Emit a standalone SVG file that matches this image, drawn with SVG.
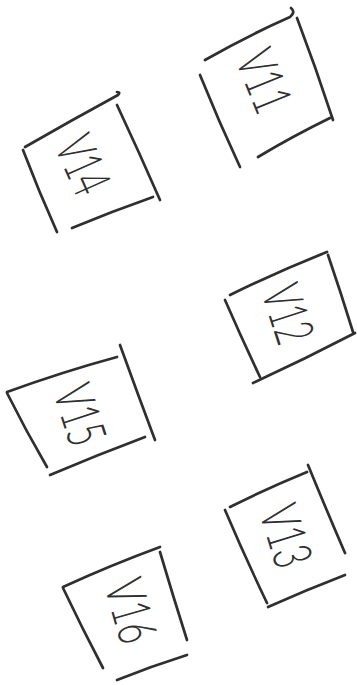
<svg xmlns="http://www.w3.org/2000/svg" width="357" height="685" viewBox="0 0 357 685">
<style>
.e{fill:none;stroke:#2f2f2f;stroke-width:2.7;stroke-linecap:round;stroke-linejoin:round}
.lbl{font-family:Lato,"Liberation Sans",sans-serif;font-weight:300;font-size:54px;fill:#2f2f2f;text-anchor:middle}
</style>
<rect width="357" height="685" fill="#ffffff"/>
<g id="connectors"></g>
<g id="V11">
<path class="e" d="M205,60 Q247,36 290,17 Q296,12 291,8"/>
<path class="e" d="M297,18 Q316,68 333,120"/>
<path class="e" d="M258,157 Q293,136 330,118"/>
<path class="e" d="M200,75 Q219,122 240,167"/>
<text class="lbl" transform="translate(264,81) rotate(68)" textLength="62" lengthAdjust="spacingAndGlyphs" dy="0.35em">V11</text>
</g>
<g id="V14">
<path class="e" d="M25,147 Q72,120 118,95 Q121,92 117,92"/>
<path class="e" d="M117,105 Q139,152 160,200"/>
<path class="e" d="M72,228 Q113,211 153,197"/>
<path class="e" d="M23,150 Q39,192 57,232"/>
<text class="lbl" transform="translate(83,165) rotate(66)" textLength="58" lengthAdjust="spacingAndGlyphs" dy="0.35em">V14</text>
</g>
<g id="V12">
<path class="e" d="M230,295 Q279,271 327,252"/>
<path class="e" d="M328,255 Q341,293 353,332"/>
<path class="e" d="M253,383 Q305,359 355,333"/>
<path class="e" d="M225,300 Q242,339 260,377"/>
<text class="lbl" transform="translate(288,314) rotate(72)" textLength="58" lengthAdjust="spacingAndGlyphs" dy="0.35em">V12</text>
</g>
<g id="V15">
<path class="e" d="M7,392 Q62,372 117,357"/>
<path class="e" d="M120,345 Q137,392 155,440"/>
<path class="e" d="M50,475 Q97,455 145,437"/>
<path class="e" d="M7,393 Q26,431 47,467"/>
<text class="lbl" transform="translate(80,415) rotate(72)" textLength="60" lengthAdjust="spacingAndGlyphs" dy="0.35em">V15</text>
</g>
<g id="V13">
<path class="e" d="M230,507 Q268,488 307,472"/>
<path class="e" d="M308,465 Q326,509 345,553"/>
<path class="e" d="M268,607 Q306,590 345,575"/>
<path class="e" d="M225,510 Q245,557 267,603"/>
<text class="lbl" transform="translate(286,536) rotate(73)" textLength="62" lengthAdjust="spacingAndGlyphs" dy="0.35em">V13</text>
</g>
<g id="V16">
<path class="e" d="M63,587 Q111,565 160,547"/>
<path class="e" d="M160,552 Q173,596 187,640"/>
<path class="e" d="M117,680 Q152,666 187,655"/>
<path class="e" d="M63,588 Q82,628 103,668"/>
<text class="lbl" transform="translate(131,611) rotate(74)" textLength="64" lengthAdjust="spacingAndGlyphs" dy="0.35em">V16</text>
</g>
</svg>
